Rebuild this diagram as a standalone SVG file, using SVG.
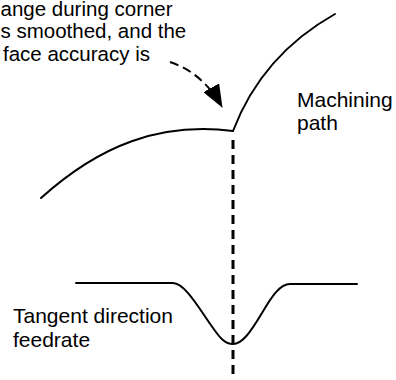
<svg xmlns="http://www.w3.org/2000/svg" width="396" height="380" viewBox="0 0 396 380">
<style>
.t{font-family:"Liberation Sans",Arial,sans-serif;font-size:21px;fill:#000}
.n{font-size:20.5px}
.c{fill:none;stroke:#000;stroke-width:2;stroke-linecap:round}
</style>
<defs>
<marker id="ah" markerWidth="23" markerHeight="18" refX="22" refY="9" orient="auto" markerUnits="userSpaceOnUse">
<path d="M0,0 L23,9 L0,18 Z" fill="#000"/>
</marker>
</defs>
<rect width="396" height="380" fill="#fff"/>
<g id="note">
<text class="t n" x="0.5" y="15.5">ange during corner</text>
<text class="t n" x="0.5" y="38">s smoothed, and the</text>
<text class="t n" x="3" y="60.5">face accuracy is</text>
</g>
<g id="machining-path">
<path class="c" d="M41,198 C100,145 160,122 233,131"/>
<path class="c" d="M233,131 Q262,55 335,14"/>
<text class="t" x="297" y="107">Machining</text>
<text class="t" x="297" y="130">path</text>
</g>
<g id="feedrate">
<path class="c" d="M76,283 L173,283 C185,283 200,310 213,328 C220,338 225,344 233,344 C242,344 250,333 262,313 C272,296 280,284 290,284 L357,284"/>
<text class="t" x="13" y="323">Tangent direction</text>
<text class="t" x="13" y="347">feedrate</text>
</g>
<g id="connectors">
<path d="M170,62 Q203,73 222,107" fill="none" stroke="#000" stroke-width="2" stroke-dasharray="9,5" marker-end="url(#ah)"/>
<line x1="233" y1="140" x2="233" y2="380" stroke="#000" stroke-width="3" stroke-dasharray="9,6"/>
</g>
</svg>
